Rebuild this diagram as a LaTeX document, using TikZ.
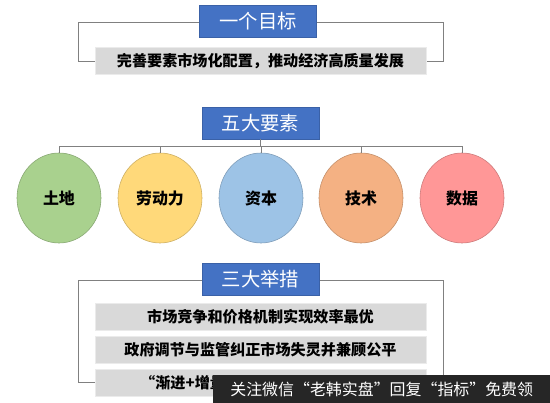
\documentclass[tikz,border=0pt]{standalone}
\usepackage{fontspec}
\setmainfont{Noto Sans CJK SC}
\usetikzlibrary{shapes.geometric}
\definecolor{titleblue}{HTML}{4472C4}
\definecolor{linegray}{HTML}{808080}
\definecolor{boxgray}{HTML}{D9D9D9}
\definecolor{landgreen}{HTML}{A9D18E}
\definecolor{laboryellow}{HTML}{FFD97A}
\definecolor{capblue}{HTML}{9DC3E6}
\definecolor{techorange}{HTML}{F4B183}
\definecolor{datapink}{HTML}{FF9797}
\begin{document}
\begin{tikzpicture}[x=0.03cm,y=-0.03cm,
  frame/.style={draw=linegray, line width=0.8pt},
  link/.style={draw=linegray, line width=0.8pt},
  title/.style={fill=titleblue, draw=titleblue!85!black, text=white,
    minimum width=3.5cm, minimum height=0.96cm, inner sep=0pt,
    font=\fontsize{16.5}{18}\selectfont},
  greybox/.style={fill=boxgray, draw=black!8, minimum width=9.93cm,
    minimum height=0.8cm, inner sep=0pt,
    font=\fontsize{12.9}{15}\selectfont\bfseries},
  factor/.style={ellipse, draw=#1!80!black, fill=#1, line width=0.5pt,
    minimum width=2.52cm, minimum height=2.7cm, inner sep=0pt,
    font=\fontsize{13.6}{16}\selectfont\bfseries}]
\useasboundingbox (0,0) rectangle (550,403);
% one goal
\draw[frame] (78,22) rectangle (443,61);
\node[title] (t1) at (258,21.5) {一个目标};
\node[greybox] (g1) at (260.5,61) {完善要素市场化配置，推动经济高质量发展};
% five factors
\node[title] (t2) at (260.5,123) {五大要素};
\foreach \x/\c/\s [count=\i] in {59/landgreen/土地, 160/laboryellow/劳动力,
    261/capblue/资本, 361/techorange/技术, 462/datapink/数据}
  \node[factor=\c] (c\i) at (\x,198) {\s};
\foreach \i in {1,...,5} {\draw[link] (t2.south) -- ++(0,7) -| (c\i.north);}
% three measures
\draw[frame] (78,280) rectangle (443,382);
\node[title] (t3) at (260.5,279.5) {三大举措};
\node[greybox] (m1) at (260.5,316.5) {市场竞争和价格机制实现效率最优};
\node[greybox] (m2) at (260.5,349.5) {政府调节与监管纠正市场失灵并兼顾公平};
\node[greybox] (m3) at (260.5,382.5) {};
\node[anchor=west, inner sep=0pt, font=\fontsize{12.9}{15}\selectfont\bfseries]
  (m3txt) at (140,382.5) {“渐进+增量+};
% watermark bar
\node[fill=black!85, text=white, anchor=north west, minimum width=10.11cm,
  minimum height=0.84cm, inner sep=0pt, font=\fontsize{13.6}{16}\selectfont]
  (wm) at (213,375) {关注微信“老韩实盘”回复“指标”免费领};
\end{tikzpicture}
\end{document}
